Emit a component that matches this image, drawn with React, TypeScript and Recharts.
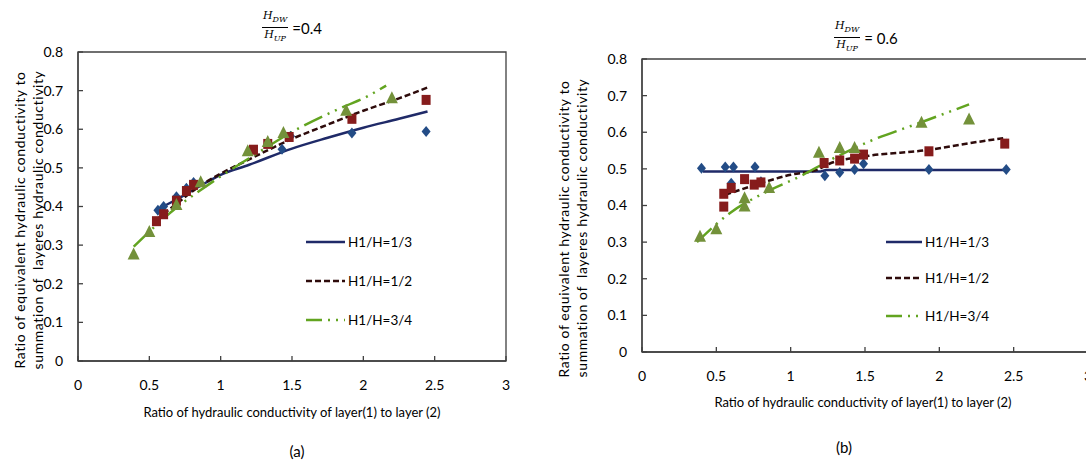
import React from "react";
import { ComposedChart, Scatter, Line, XAxis, YAxis, ReferenceArea, Legend } from "recharts";

const FONT = "Lato, 'Liberation Sans', sans-serif";

const xTicks = [0, 0.5, 1, 1.5, 2, 2.5, 3];
const yTicks = [0, 0.1, 0.2, 0.3, 0.4, 0.5, 0.6, 0.7, 0.8];
const seriesNames = ["H1/H=1/3", "H1/H=1/2", "H1/H=3/4"];

// (a) Hdw/Hup = 0.4 — measured points
const aThirdX = [0.56, 0.6, 0.69, 0.76, 0.81, 1.43, 1.49, 1.92, 2.44];
const aThirdY = [0.39, 0.4, 0.425, 0.447, 0.462, 0.548, 0.582, 0.59, 0.594];
const aHalfX = [0.55, 0.6, 0.69, 0.76, 0.81, 1.23, 1.33, 1.48, 1.92, 2.44];
const aHalfY = [0.362, 0.38, 0.415, 0.44, 0.456, 0.547, 0.562, 0.58, 0.627, 0.676];
const aQuarterX = [0.39, 0.5, 0.69, 0.86, 1.19, 1.33, 1.44, 1.88, 2.2];
const aQuarterY = [0.276, 0.334, 0.404, 0.463, 0.543, 0.567, 0.59, 0.648, 0.68];

// (a) trend lines
const aThirdFitX = [0.56, 0.7, 0.85, 1.0, 1.2, 1.5, 1.75, 2.0, 2.25, 2.45];
const aThirdFitY = [0.393, 0.42, 0.452, 0.482, 0.508, 0.55, 0.578, 0.604, 0.627, 0.646];
const aHalfFitX = [0.55, 0.7, 0.85, 1.0, 1.2, 1.5, 1.75, 2.0, 2.25, 2.45];
const aHalfFitY = [0.366, 0.41, 0.452, 0.485, 0.522, 0.575, 0.612, 0.648, 0.68, 0.708];
const aQuarterFitX = [0.39, 0.5, 0.7, 0.85, 1.0, 1.2, 1.55, 1.88, 2.0, 2.16];
const aQuarterFitY = [0.296, 0.335, 0.4, 0.44, 0.478, 0.525, 0.603, 0.661, 0.68, 0.713];

// (b) Hdw/Hup = 0.6 — measured points
const bThirdX = [0.4, 0.56, 0.6, 0.615, 0.76, 0.8, 1.23, 1.33, 1.43, 1.49, 1.93, 2.45];
const bThirdY = [0.502, 0.505, 0.461, 0.505, 0.505, 0.465, 0.481, 0.49, 0.498, 0.514, 0.498, 0.498];
const bHalfX = [0.55, 0.55, 0.6, 0.69, 0.755, 0.8, 1.225, 1.33, 1.43, 1.49, 1.93, 2.44];
const bHalfY = [0.397, 0.432, 0.448, 0.472, 0.457, 0.463, 0.516, 0.523, 0.528, 0.539, 0.548, 0.569];
const bQuarterX = [0.39, 0.5, 0.69, 0.69, 0.855, 1.19, 1.33, 1.43, 1.88, 2.2];
const bQuarterY = [0.315, 0.335, 0.42, 0.397, 0.448, 0.544, 0.557, 0.557, 0.626, 0.635];

// (b) trend lines
const bThirdFitX = [0.41, 1.2, 1.24, 2.45];
const bThirdFitY = [0.493, 0.493, 0.497, 0.497];
const bHalfFitX = [0.56, 0.73, 1.0, 1.18, 1.26, 1.5, 1.93, 2.2, 2.45];
const bHalfFitY = [0.429, 0.452, 0.484, 0.498, 0.514, 0.534, 0.552, 0.57, 0.585];
const bQuarterFitX = [0.37, 0.59, 0.84, 1.06, 1.27, 1.53, 1.87, 2.2];
const bQuarterFitY = [0.3, 0.379, 0.438, 0.479, 0.525, 0.575, 0.626, 0.676];

const zip = (xs: number[], ys: number[]) => xs.map((x, i) => ({ x, y: ys[i] }));

const BLUE_LINE = "#1f2a68";
const RED_LINE = "#2e0b0b";
const GREEN_LINE = "#62a420";
const lineStyles = [
  { stroke: BLUE_LINE, dash: undefined as string | undefined },
  { stroke: RED_LINE, dash: "6 3" },
  { stroke: GREEN_LINE, dash: "20 6 2 6 2 6" },
];

const Diamond = (p: any) => (
  <path
    d={`M${p.cx},${p.cy - 5.5}L${p.cx + 4.5},${p.cy}L${p.cx},${p.cy + 5.5}L${p.cx - 4.5},${p.cy}Z`}
    fill="#234c86"
  />
);
const Square = (p: any) => (
  <rect x={p.cx - 4.5} y={p.cy - 5} width={9} height={10} fill="#861c1c" />
);
const Triangle = (p: any) => (
  <path
    d={`M${p.cx},${p.cy - 7}L${p.cx + 6},${p.cy + 5}L${p.cx - 6},${p.cy + 5}Z`}
    fill="#73913a"
  />
);

function LegendBox({ rows, lineLen }: { rows: number[]; lineLen: number }) {
  return (
    <svg width={130} height={110} style={{ display: "block" }}>
      {seriesNames.map((name, i) => (
        <g key={name}>
          <line
            x1={6}
            x2={6 + lineLen}
            y1={rows[i]}
            y2={rows[i]}
            stroke={lineStyles[i].stroke}
            strokeWidth={2.5}
            strokeDasharray={i === 2 ? "16 6 2 6 2 6" : lineStyles[i].dash}
          />
          <text
            x={9 + lineLen}
            y={rows[i]}
            dy="0.35em"
            fontSize={13.5}
            fontFamily={FONT}
            fill="#000"
          >
            {name}
          </text>
        </g>
      ))}
    </svg>
  );
}

interface PanelProps {
  left: number;
  width: number;
  margin: { top: number; right: number; bottom: number; left: number };
  points: { x: number; y: number }[][];
  fits: { x: number; y: number }[][];
  legendPos: { left: number; top: number };
  legendRows: number[];
  lineLen: number;
  xTickMargin: number;
}

function Panel(p: PanelProps) {
  const shapes = [Diamond, Square, Triangle];
  return (
    <div style={{ position: "absolute", left: p.left, top: 0 }}>
      <ComposedChart width={p.width} height={460} margin={p.margin}>
        <XAxis
          type="number"
          dataKey="x"
          domain={[0, 3]}
          ticks={xTicks}
          height={30}
          tickSize={-5}
          tickMargin={p.xTickMargin}
          stroke="#404040"
          strokeWidth={1.3}
          tick={{ fontSize: 14, fill: "#000", fontFamily: FONT }}
          allowDataOverflow
        />
        <YAxis
          type="number"
          dataKey="y"
          domain={[0, 0.8]}
          ticks={yTicks}
          width={30}
          tickSize={-5}
          tickMargin={20}
          stroke="#404040"
          strokeWidth={1.3}
          tick={{ fontSize: 14, fill: "#000", fontFamily: FONT }}
          allowDataOverflow
        />
        <ReferenceArea
          x1={0}
          x2={3}
          y1={0}
          y2={0.8}
          fill="none"
          stroke="#404040"
          strokeWidth={1.3}
          ifOverflow="visible"
        />
        {p.points.map((d, i) => (
          <Scatter
            key={"s" + i}
            name={seriesNames[i]}
            data={d}
            dataKey="y"
            shape={shapes[i]}
            isAnimationActive={false}
          />
        ))}
        {p.fits.map((d, i) => (
          <Line
            key={"l" + i}
            data={d}
            dataKey="y"
            type="monotone"
            dot={false}
            activeDot={false}
            stroke={lineStyles[i].stroke}
            strokeWidth={2.5}
            strokeDasharray={lineStyles[i].dash}
            isAnimationActive={false}
            legendType="none"
          />
        ))}
        <Legend
          layout="vertical"
          align="center"
          verticalAlign="middle"
          wrapperStyle={{ left: p.legendPos.left, top: p.legendPos.top, width: 130 }}
          content={() => <LegendBox rows={p.legendRows} lineLen={p.lineLen} />}
        />
      </ComposedChart>
    </div>
  );
}

function Ratio({ left, top, value }: { left: number; top: number; value: string }) {
  return (
    <div
      style={{
        position: "absolute",
        left,
        top,
        display: "flex",
        alignItems: "center",
        color: "#000",
      }}
    >
      <div
        style={{
          display: "inline-flex",
          flexDirection: "column",
          alignItems: "center",
          fontFamily: "'DejaVu Serif', serif",
          fontStyle: "italic",
          fontSize: 11,
          lineHeight: "12px",
        }}
      >
        <span style={{ borderBottom: "1px solid #000", padding: "0 1px 1px" }}>
          H<sub style={{ fontSize: 8 }}>DW</sub>
        </span>
        <span style={{ paddingTop: 1 }}>
          H<sub style={{ fontSize: 8 }}>UP</sub>
        </span>
      </div>
      <span style={{ fontFamily: FONT, fontSize: 15, marginLeft: 4 }}>{value}</span>
    </div>
  );
}

const yTitle1 = "Ratio of equivalent hydraulic conductivity to";
const yTitle2 = "summation of  layeres hydraulic conductivity";
const xTitle = "Ratio of hydraulic conductivity of layer(1) to layer (2)";

function VText({ cx, cy, text }: { cx: number; cy: number; text: string }) {
  return (
    <div
      style={{
        position: "absolute",
        left: cx,
        top: cy,
        transform: "translate(-50%, -50%) rotate(-90deg)",
        whiteSpace: "pre",
        fontFamily: FONT,
        fontSize: 14,
        letterSpacing: 0.6,
        color: "#000",
      }}
    >
      {text}
    </div>
  );
}

function HText({ cx, cy, text, size }: { cx: number; cy: number; text: string; size: number }) {
  return (
    <div
      style={{
        position: "absolute",
        left: cx,
        top: cy,
        transform: "translate(-50%, -50%)",
        whiteSpace: "pre",
        fontFamily: FONT,
        fontSize: size,
        color: "#000",
      }}
    >
      {text}
    </div>
  );
}

export default function App() {
  return (
    <div
      style={{
        position: "fixed",
        left: 0,
        top: 0,
        width: 1086,
        height: 460,
        overflow: "hidden",
        background: "#fff",
      }}
    >
      <Panel
        left={0}
        width={540}
        margin={{ top: 52, right: 34, bottom: 69, left: 48 }}
        points={[zip(aThirdX, aThirdY), zip(aHalfX, aHalfY), zip(aQuarterX, aQuarterY)]}
        fits={[zip(aThirdFitX, aThirdFitY), zip(aHalfFitX, aHalfFitY), zip(aQuarterFitX, aQuarterFitY)]}
        legendPos={{ left: 300, top: 230 }}
        legendRows={[12, 51, 90]}
        lineLen={39}
        xTickMargin={24}
      />
      <Panel
        left={540}
        width={568}
        margin={{ top: 59, right: 20, bottom: 78, left: 72 }}
        points={[zip(bThirdX, bThirdY), zip(bHalfX, bHalfY), zip(bQuarterX, bQuarterY)]}
        fits={[zip(bThirdFitX, bThirdFitY), zip(bHalfFitX, bHalfFitY), zip(bQuarterFitX, bQuarterFitY)]}
        legendPos={{ left: 340, top: 230 }}
        legendRows={[12, 48, 86]}
        lineLen={36}
        xTickMargin={24}
      />
      <Ratio left={262} top={10} value="=0.4" />
      <Ratio left={834} top={20} value="= 0.6" />
      <VText cx={19} cy={220} text={yTitle1} />
      <VText cx={37} cy={220} text={yTitle2} />
      <VText cx={563} cy={229} text={yTitle1} />
      <VText cx={581} cy={228} text={yTitle2} />
      <HText cx={292} cy={412} text={xTitle} size={13} />
      <HText cx={863} cy={402} text={xTitle} size={13} />
      <HText cx={297} cy={451} text="(a)" size={15} />
      <HText cx={844} cy={447} text="(b)" size={15} />
    </div>
  );
}
